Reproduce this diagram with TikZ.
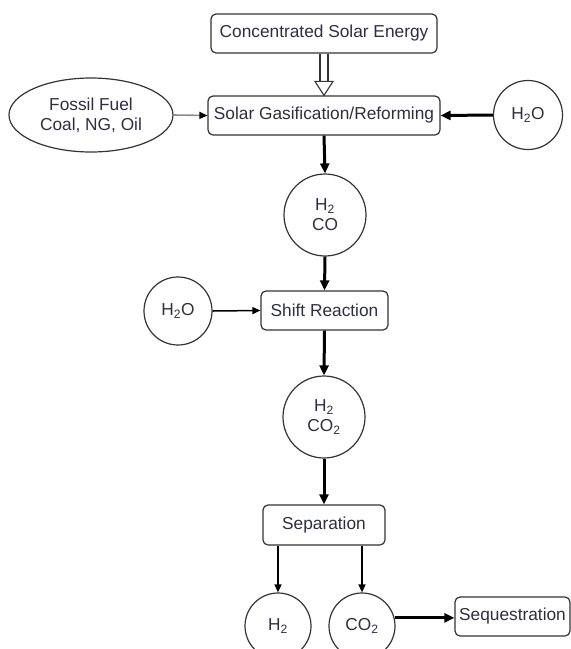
\documentclass[tikz,border=0pt]{standalone}
\usepackage{fontspec}
\setmainfont{Liberation Sans}
\usetikzlibrary{arrows.meta,calc,shapes.geometric}
\definecolor{txt}{HTML}{2E2E40}
\definecolor{edge}{HTML}{333333}
\tikzset{
  base/.style={draw=edge, line width=1.2pt, text=txt, inner sep=0pt, align=center,
    font=\fontsize{17.3}{20}\selectfont},
  boxnode/.style={base, rectangle, rounded corners=5pt},
  circnode/.style={base, circle},
  ellnode/.style={base, ellipse},
  thickarrow/.style={line width=3pt, draw=black, -{Triangle[length=10pt,width=9pt]}},
  thinarrow/.style={line width=1.5pt, draw=black, -{Triangle[length=8pt,width=7pt]}},
  grayarrow/.style={line width=1.6pt, draw=black!45, -{Triangle[length=8pt,width=7pt,color=black]}},
}
\begin{document}
\begin{tikzpicture}[x=1pt,y=-1pt]
\useasboundingbox (0,0) rectangle (571,649);
\clip (0,0) rectangle (571,649);
\node[boxnode, minimum width=226pt, minimum height=39pt] (cse) at (324,33.5) {Concentrated Solar Energy};
\node[boxnode, minimum width=232pt, minimum height=39pt] (sgr) at (324,115.5) {Solar Gasification/Reforming};
\node[ellnode, minimum width=164pt, minimum height=74pt] (ff) at (91,115) {Fossil Fuel\\Coal, NG, Oil};
\node[circnode, minimum size=69pt] (wa) at (528,115) {H\textsubscript{2}O};
\node[circnode, minimum size=82pt] (syn) at (325,215) {H\textsubscript{2}\\CO};
\node[circnode, minimum size=68pt] (wb) at (178,311) {H\textsubscript{2}O};
\node[boxnode, minimum width=127pt, minimum height=39pt] (shift) at (324.5,310.5) {Shift Reaction};
\node[circnode, minimum size=82pt] (mix) at (324,417) {H\textsubscript{2}\\CO\textsubscript{2}};
\node[boxnode, minimum width=122pt, minimum height=40pt] (sep) at (324,525) {Separation};
\node[circnode, minimum size=66pt] (h2) at (278,626) {H\textsubscript{2}};
\node[circnode, minimum size=66pt] (co2) at (362,626) {CO\textsubscript{2}};
\node[boxnode, minimum width=115pt, minimum height=39pt] (seq) at (512.5,616.5) {Sequestration};
% hollow double arrow
\draw[line width=1.1pt, draw=edge] ($(cse.south)+(-4,0)$) -- ($(sgr.north)+(-4,-14)$)
  ($(cse.south)+(4,0)$) -- ($(sgr.north)+(4,-14)$);
\draw[line width=1.1pt, draw=edge, fill=white, line join=miter]
  ($(sgr.north)+(-9,-14)$) -- ($(sgr.north)+(9,-14)$) -- (sgr.north) -- cycle;
% connectors
\draw[grayarrow] (ff.east) -- (sgr.west);
\draw[thickarrow] (wa.west) -- (sgr.east);
\draw[thickarrow] (sgr.south) -- (syn.north);
\draw[thickarrow] (syn.south) -- (shift.north);
\draw[thinarrow] (wb.east) -- (shift.west);
\draw[thickarrow] (shift.south) -- (mix.north);
\draw[thickarrow] (mix.south) -- (sep.north);
\draw[thinarrow] (sep.south -| h2.north) -- (h2.north);
\draw[thinarrow] (sep.south -| co2.north) -- (co2.north);
\draw[thickarrow] (co2.14) -- (seq.west |- co2.14);
\end{tikzpicture}
\end{document}
